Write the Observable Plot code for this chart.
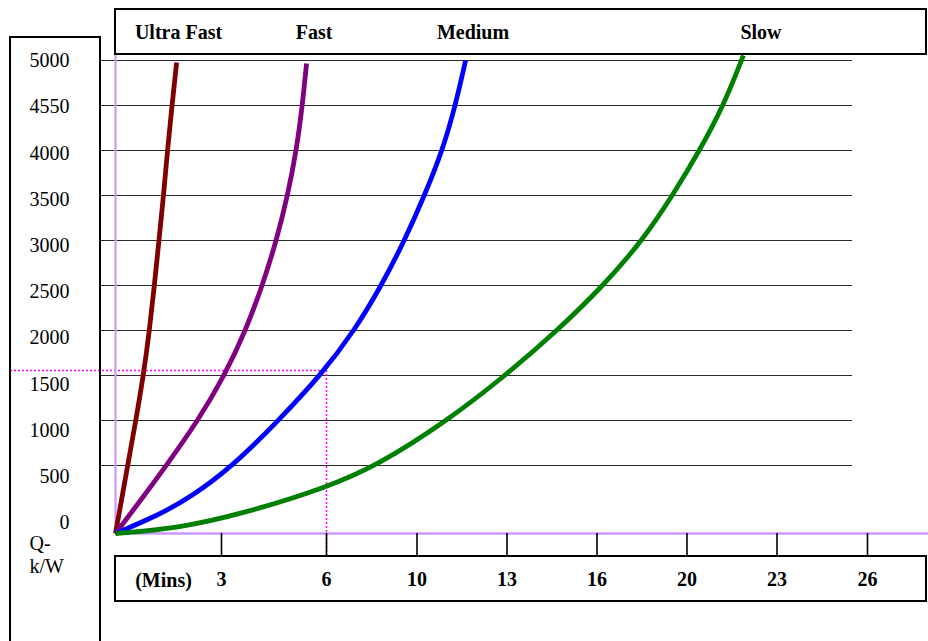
<!DOCTYPE html>
<html>
<head>
<meta charset="utf-8">
<script src="https://cdn.jsdelivr.net/npm/d3@7"></script>
<script src="https://cdn.jsdelivr.net/npm/@observablehq/plot@0.6"></script>
<style>
  body { margin: 0; background: #fff; }
  #wrap { position: relative; width: 928px; height: 641px; overflow: hidden;
          font-family: "Liberation Serif", "Times New Roman", serif; color: #000; }
  #wrap svg { position: absolute; left: 0; top: 0; }
  .box { position: absolute; border: 2px solid #000; box-sizing: border-box; }
  .lbl { position: absolute; transform: translate(-50%, -50%); font-weight: bold;
         font-size: 20px; line-height: 1; white-space: nowrap; }
</style>
</head>
<body>
<div id="wrap"></div>
<script>
// ---------- data ----------
const seriesNames = ["Ultra Fast", "Fast", "Medium", "Slow"];
const seriesColors = ["#800000", "#800080", "#0000ff", "#008000"];

// time in minutes, heat Q in kW
const ultraFastMin = [0, 0.34, 0.57, 0.79, 0.96, 1.10, 1.23, 1.36, 1.47, 1.60, 1.73];
const ultraFastQ   = [0, 493, 989, 1500, 2000, 2500, 3000, 3500, 4000, 4500, 4978];

const fastMin = [0, 0.71, 1.42, 2.32, 3.09, 3.69, 4.17, 4.57, 4.89, 5.14, 5.31, 5.43];
const fastQ   = [0, 243, 493, 989, 1500, 2000, 2500, 3000, 3500, 4000, 4500, 4967];

const mediumMin = [0, 1.19, 2.12, 3.31, 4.60, 5.83, 7.24, 8.43, 9.45, 10.25, 10.85, 11.28, 11.62];
const mediumQ   = [0, 132, 265, 493, 989, 1500, 2000, 2500, 3000, 3500, 4000, 4500, 5000];

const slowMin = [0, 1.75, 3.63, 6.0, 8.25, 11.02, 12.95, 14.68, 16.29, 18.02, 19.36, 20.42, 21.22, 21.88];
const slowQ   = [0, 37, 147, 338, 500, 1000, 1500, 2000, 2500, 3000, 3500, 4000, 4500, 5056];

const xTicks = [3, 6, 10, 13, 16, 20, 23, 26];
const yGrid = [5000, 4500, 4000, 3500, 3000, 2500, 2000, 1500, 1000, 500];
const yLabels = ["5000", "4550", "4000", "3500", "3000", "2500", "2000", "1500", "1000", "500", "0"];
const xUnit = "(Mins)";
const yUnit = ["Q-", "k/W"];
const refMin = 6;      // dotted reference: 6 minutes
const refQ = 1556;     // ... at about 1556 kW

// ---------- build table ----------
const seriesMin = [ultraFastMin, fastMin, mediumMin, slowMin];
const seriesQ = [ultraFastQ, fastQ, mediumQ, slowQ];
const rows = [];
seriesNames.forEach((name, s) => {
  seriesMin[s].forEach((m, i) => rows.push({series: name, min: m, q: seriesQ[s][i]}));
});

// the drawing's axes are not uniform: piecewise warps used as scale transforms
const warpX = d3.scaleLinear().domain([0, ...xTicks]).range([115, 221, 326, 416.5, 506.5, 596.5, 686.5, 776.5, 867]);
const warpY = d3.scaleLinear().domain([0, 500, 5000]).range([533, 465, 60]);

const font = '"Liberation Serif", "Times New Roman", serif';

const chart = Plot.plot({
  width: 928,
  height: 641,
  marginTop: 54,
  marginRight: 76,
  marginBottom: 108,
  marginLeft: 100,
  style: {background: "transparent", fontFamily: font, fontSize: "20px"},
  x: {transform: warpX, domain: [0, 928], range: [0, 928], axis: null},
  y: {transform: warpY, domain: [0, 641], range: [0, 641], axis: null},
  color: {domain: seriesNames, range: seriesColors},
  marks: [
    // horizontal grid
    Plot.ruleY(yGrid, {y: d => d, stroke: "#2a2a2a", strokeWidth: 1.2}),
    // dotted reference lines
    Plot.ruleY([refQ], {y: d => d, x1: () => 0, x2: () => refMin, insetLeft: -105,
      stroke: "#ff00ff", strokeWidth: 1.5, strokeDasharray: "2,2"}),
    Plot.ruleX([refMin], {x: d => d, y1: () => refQ, y2: () => 0, insetBottom: -22,
      stroke: "#ff00ff", strokeWidth: 1.5, strokeDasharray: "2,2"}),
    // axis lines (lavender)
    Plot.ruleX([0], {x: d => d, stroke: "#cc99ff", strokeWidth: 2.2}),
    Plot.ruleY([0], {y: d => d, insetLeft: 15, insetRight: -76, stroke: "#cc99ff", strokeWidth: 2.6}),
    // x ticks
    Plot.ruleX(xTicks, {x: d => d, y1: () => 0, y2: () => 0, insetBottom: -22, stroke: "#000", strokeWidth: 1.6}),
    Plot.text(xTicks, {x: d => d, y: () => 0, text: d => String(d), dy: 46,
      fontFamily: font, fontSize: 20, fontWeight: "bold", fill: "#000"}),
    // curves
    Plot.line(rows, {x: "min", y: "q", z: "series", stroke: "series", strokeWidth: 4.8,
      curve: "basis", strokeLinecap: "butt"}),
    // y labels (evenly spaced text column)
    Plot.text([yLabels.join("\n")], {frameAnchor: "left", y: () => Number(yLabels[5]), text: d => d,
      dx: -31, dy: -2, textAnchor: "end", lineHeight: 46.2 / 20,
      fontFamily: font, fontSize: 20, fill: "#000"}),
    Plot.text([yUnit.join("\n")], {frameAnchor: "left", y: () => 0, text: d => d,
      dx: -71, dy: 20.5, textAnchor: "start", lineHeight: 1.15,
      fontFamily: font, fontSize: 20, fill: "#000"})
  ]
});

const wrap = document.getElementById("wrap");
wrap.appendChild(chart);

// boxes (frames of the original drawing)
function box(left, top, w, h) {
  const d = document.createElement("div");
  d.className = "box";
  Object.assign(d.style, {left: left + "px", top: top + "px", width: w + "px", height: h + "px"});
  wrap.appendChild(d);
}
box(9, 36, 92, 700);     // left label column
box(114, 8, 813, 47);    // header (legend) box
box(114, 555, 813, 47);  // x unit box

// legend labels in header box
const legendCenters = [178.5, 314, 473, 761];
seriesNames.forEach((name, i) => {
  const s = document.createElement("span");
  s.className = "lbl";
  s.textContent = name;
  s.style.left = legendCenters[i] + "px";
  s.style.top = "32px";
  wrap.appendChild(s);
});
const u = document.createElement("span");
u.className = "lbl";
u.textContent = xUnit;
u.style.left = "163.5px";
u.style.top = "579.5px";
wrap.appendChild(u);
</script>
</body>
</html>
